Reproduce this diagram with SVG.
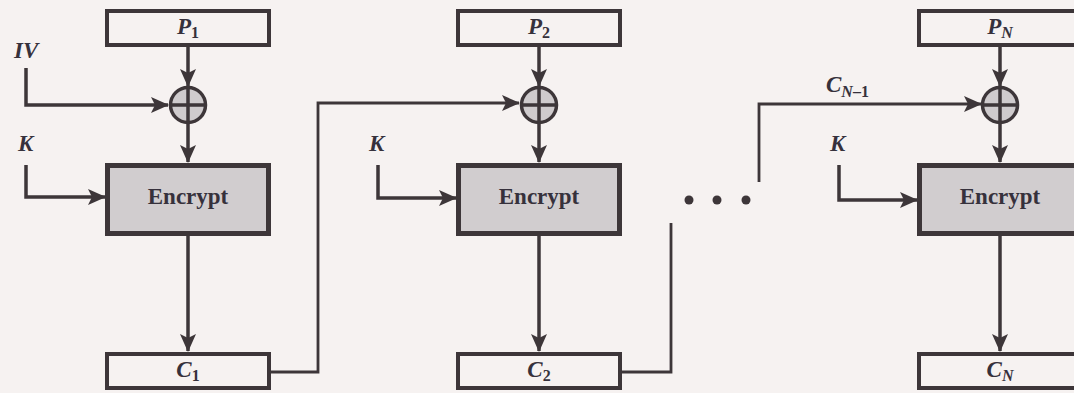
<svg xmlns="http://www.w3.org/2000/svg" width="1074" height="393" viewBox="0 0 1074 393">
<defs>
<marker id="ah" markerUnits="userSpaceOnUse" markerWidth="18" markerHeight="16" viewBox="0 0 18 16" refX="17" refY="8" orient="auto">
<path d="M0,0 L18,8 L0,16 L4,8 z" fill="#3d3639"/>
</marker>
<style>
.box{fill:none;stroke:#3d3639;stroke-width:4}
.enc{fill:#d1cdcf;stroke:#3d3639;stroke-width:5}
.xor{fill:#cfcbcd;stroke:#3d3639;stroke-width:3.5}
.ln{fill:none;stroke:#3d3639;stroke-width:3.5}
.fb{fill:none;stroke:#3d3639;stroke-width:2.8}
.t{font-family:"Liberation Serif",serif;fill:#36313c;font-weight:bold}
.it{font-style:italic;font-size:23px}
.sub{font-style:normal;font-size:16px}
.subi{font-style:italic;font-size:16px}
.e{font-size:23px;text-anchor:middle}
</style>
</defs>
<rect width="1074" height="393" fill="#f6f2f1"/>

<g id="connectors">
<path class="ln" d="M188,46 V86" marker-end="url(#ah)"/>
<path class="ln" d="M188,123 V162" marker-end="url(#ah)"/>
<path class="ln" d="M26,68 V105 H168" marker-end="url(#ah)"/>
<path class="ln" d="M26,165 V197 H105" marker-end="url(#ah)"/>
<path class="ln" d="M188,236 V351" marker-end="url(#ah)"/>
<path class="fb" d="M271,372 H318 V103 H519" marker-end="url(#ah)"/>

<path class="ln" d="M539,46 V86" marker-end="url(#ah)"/>
<path class="ln" d="M539,123 V162" marker-end="url(#ah)"/>
<path class="ln" d="M378,165 V198 H456" marker-end="url(#ah)"/>
<path class="ln" d="M539,236 V351" marker-end="url(#ah)"/>
<path class="fb" d="M622,372 H671 V223"/>

<path class="fb" d="M759,182 V104 H981" marker-end="url(#ah)"/>
<path class="ln" d="M1000,46 V86" marker-end="url(#ah)"/>
<path class="ln" d="M1000,123 V162" marker-end="url(#ah)"/>
<path class="ln" d="M839,165 V200 H917" marker-end="url(#ah)"/>
<path class="ln" d="M1000,236 V351" marker-end="url(#ah)"/>
</g>

<g id="dots" fill="#3d3639">
<circle cx="689" cy="200" r="4.5"/>
<circle cx="717" cy="200" r="4.5"/>
<circle cx="746" cy="200" r="4.5"/>
</g>

<g id="IV"><text class="t it" x="14" y="58">IV</text></g>
<g id="K1"><text class="t it" x="18" y="151">K</text></g>
<g id="K2"><text class="t it" x="369" y="151">K</text></g>
<g id="K3"><text class="t it" x="830" y="151">K</text></g>
<g id="CN1label"><text class="t it" x="826" y="92">C<tspan class="subi" dy="5">N</tspan><tspan class="sub">–1</tspan></text></g>

<g id="P1"><rect class="box" x="107" y="11" width="162" height="34"/><text class="t it" x="188" y="34" text-anchor="middle">P<tspan class="sub" dy="4">1</tspan></text></g>
<g id="X1"><circle class="xor" cx="188" cy="105" r="17.5"/><path class="ln" d="M170.5,105 H205.5 M188,87.5 V122.5"/></g>
<g id="E1"><rect class="enc" x="107.5" y="165.5" width="161" height="68"/><text class="t e" x="188" y="204">Encrypt</text></g>
<g id="C1"><rect class="box" x="107" y="354" width="162" height="34"/><text class="t it" x="188" y="377" text-anchor="middle">C<tspan class="sub" dy="4">1</tspan></text></g>

<g id="P2"><rect class="box" x="458" y="11" width="162" height="34"/><text class="t it" x="539" y="34" text-anchor="middle">P<tspan class="sub" dy="4">2</tspan></text></g>
<g id="X2"><circle class="xor" cx="539" cy="105" r="17.5"/><path class="ln" d="M521.5,105 H556.5 M539,87.5 V122.5"/></g>
<g id="E2"><rect class="enc" x="458.5" y="165.5" width="161" height="68"/><text class="t e" x="539" y="204">Encrypt</text></g>
<g id="C2"><rect class="box" x="458" y="354" width="162" height="34"/><text class="t it" x="539" y="377" text-anchor="middle">C<tspan class="sub" dy="4">2</tspan></text></g>

<g id="PN"><rect class="box" x="919" y="11" width="162" height="34"/><text class="t it" x="1000" y="34" text-anchor="middle">P<tspan class="subi" dy="4">N</tspan></text></g>
<g id="XN"><circle class="xor" cx="1000" cy="105" r="17.5"/><path class="ln" d="M982.5,105 H1017.5 M1000,87.5 V122.5"/></g>
<g id="EN"><rect class="enc" x="919.5" y="165.5" width="161" height="68"/><text class="t e" x="1000" y="204">Encrypt</text></g>
<g id="CN"><rect class="box" x="919" y="354" width="162" height="34"/><text class="t it" x="1000" y="377" text-anchor="middle">C<tspan class="subi" dy="4">N</tspan></text></g>
</svg>
